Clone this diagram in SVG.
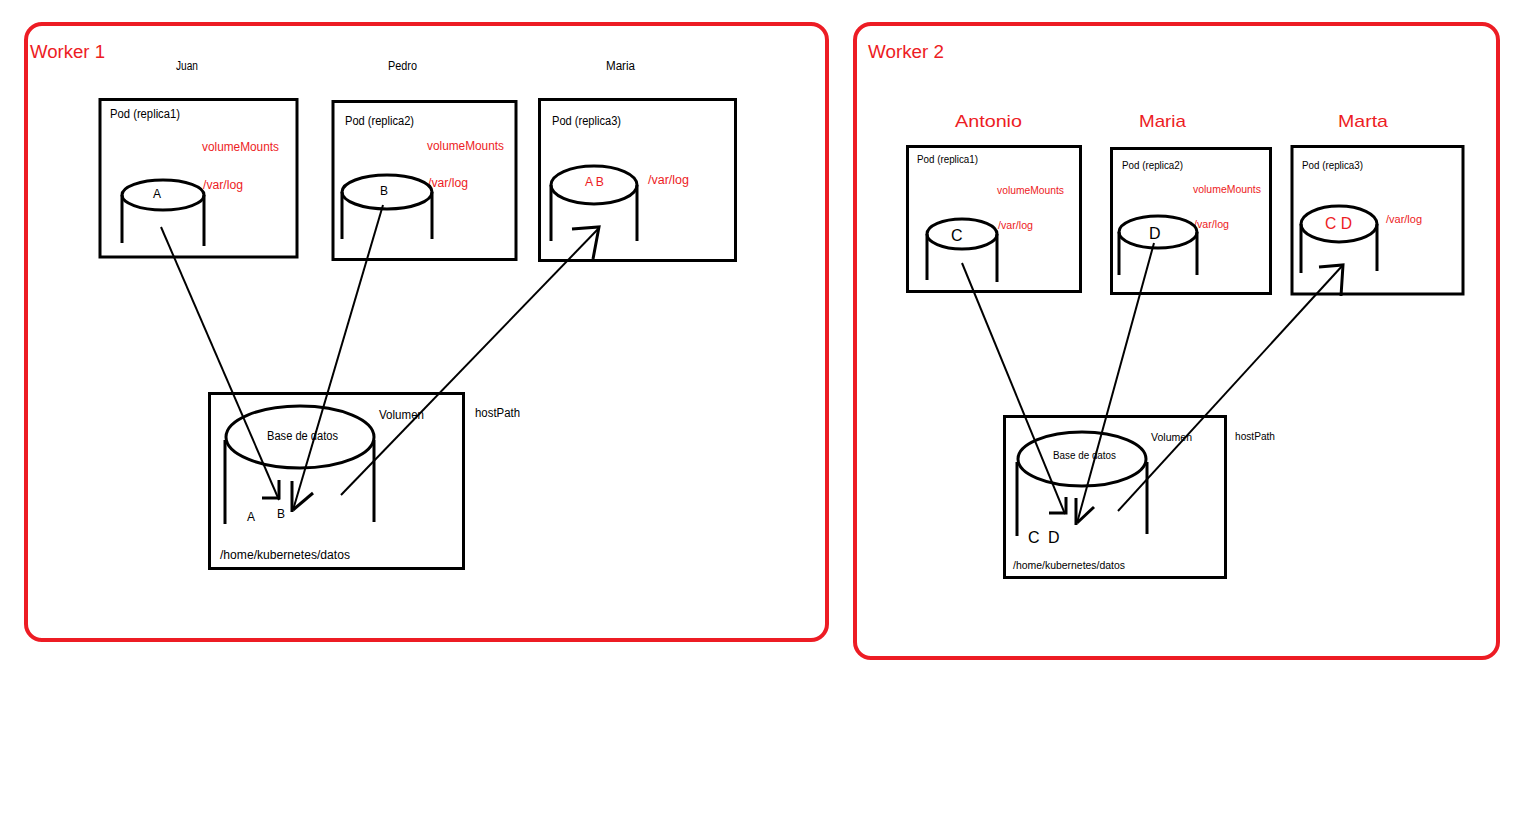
<svg xmlns="http://www.w3.org/2000/svg" width="1514" height="814" viewBox="0 0 1514 814">
<style>
.worker{fill:none;stroke:#ED1C24;stroke-width:4}
.box{fill:none;stroke:#000;stroke-width:3}
.cyl{fill:none;stroke:#000;stroke-width:3}
.conn{fill:none;stroke:#000;stroke-width:2}
.head{fill:none;stroke:#000;stroke-width:3}
text{font-family:"Liberation Sans","DejaVu Sans",sans-serif;fill:#000}
.wl{font-size:18px;fill:#ED1C24}
.red{fill:#ED1C24}
.s12{font-size:12px}
.s10{font-size:10px}
.s16{font-size:16px}
.s17{font-size:17px}
</style>
<rect width="1514" height="814" fill="#fff"/>

<g id="worker1">
<rect class="worker" x="26" y="24" width="801" height="616" rx="16"/>
<text class="wl" x="30" y="58" textLength="75" lengthAdjust="spacingAndGlyphs">Worker 1</text>
</g>
<g id="worker2">
<rect class="worker" x="855" y="24" width="643" height="634" rx="16"/>
<text class="wl" x="868" y="58" textLength="76" lengthAdjust="spacingAndGlyphs">Worker 2</text>
</g>

<g id="w1-labels">
<text class="s12" x="176" y="70" textLength="22" lengthAdjust="spacingAndGlyphs">Juan</text>
<text class="s12" x="388" y="70" textLength="29" lengthAdjust="spacingAndGlyphs">Pedro</text>
<text class="s12" x="606" y="70" textLength="29" lengthAdjust="spacingAndGlyphs">Maria</text>
</g>

<g id="w1-pod1">
<rect class="box" x="100" y="99.5" width="197" height="157.5"/>
<text class="s12" x="110" y="118" textLength="70" lengthAdjust="spacingAndGlyphs">Pod (replica1)</text>
<text class="s12 red" x="202" y="151" textLength="77" lengthAdjust="spacingAndGlyphs">volumeMounts</text>
<text class="s12 red" x="203" y="189" textLength="40" lengthAdjust="spacingAndGlyphs">/var/log</text>
<ellipse class="cyl" cx="163" cy="195" rx="41" ry="15"/>
<line class="cyl" x1="122" y1="195" x2="122" y2="243"/>
<line class="cyl" x1="204" y1="195" x2="204" y2="246"/>
<text class="s12" x="153" y="198">A</text>
</g>

<g id="w1-pod2">
<rect class="box" x="333" y="101.5" width="183" height="158"/>
<text class="s12" x="345" y="125" textLength="69" lengthAdjust="spacingAndGlyphs">Pod (replica2)</text>
<text class="s12 red" x="427" y="150" textLength="77" lengthAdjust="spacingAndGlyphs">volumeMounts</text>
<text class="s12 red" x="428" y="187" textLength="40" lengthAdjust="spacingAndGlyphs">/var/log</text>
<ellipse class="cyl" cx="387" cy="192" rx="45" ry="17"/>
<line class="cyl" x1="342" y1="192" x2="342" y2="239"/>
<line class="cyl" x1="432" y1="192" x2="432" y2="239"/>
<text class="s12" x="380" y="195">B</text>
</g>

<g id="w1-pod3">
<rect class="box" x="539.5" y="99.5" width="196" height="161"/>
<text class="s12" x="552" y="125" textLength="69" lengthAdjust="spacingAndGlyphs">Pod (replica3)</text>
<text class="s12 red" x="585" y="186" textLength="19" lengthAdjust="spacingAndGlyphs">A B</text>
<text class="s12 red" x="648" y="184" textLength="41" lengthAdjust="spacingAndGlyphs">/var/log</text>
<ellipse class="cyl" cx="594" cy="185" rx="43" ry="19"/>
<line class="cyl" x1="551" y1="185" x2="551" y2="241"/>
<line class="cyl" x1="637" y1="185" x2="637" y2="241"/>
</g>

<g id="w1-volume">
<rect class="box" x="209.5" y="393.5" width="254" height="175"/>
<ellipse class="cyl" cx="300" cy="437" rx="74" ry="31"/>
<line class="cyl" x1="225" y1="440" x2="225" y2="524"/>
<line class="cyl" x1="374" y1="440" x2="374" y2="522"/>
<text class="s12" x="267" y="440" textLength="71" lengthAdjust="spacingAndGlyphs">Base de datos</text>
<text class="s12" x="379" y="419" textLength="45" lengthAdjust="spacingAndGlyphs">Volumen</text>
<text class="s12" x="247" y="521">A</text>
<text class="s12" x="277" y="518">B</text>
<text class="s12" x="220" y="559" textLength="130" lengthAdjust="spacingAndGlyphs">/home/kubernetes/datos</text>
</g>
<g id="w1-hostpath">
<text class="s12" x="475" y="417" textLength="45" lengthAdjust="spacingAndGlyphs">hostPath</text>
</g>

<g id="w2-labels">
<text class="s17 red" x="955" y="127" textLength="67" lengthAdjust="spacingAndGlyphs">Antonio</text>
<text class="s17 red" x="1139" y="127" textLength="47" lengthAdjust="spacingAndGlyphs">Maria</text>
<text class="s17 red" x="1338" y="127" textLength="50" lengthAdjust="spacingAndGlyphs">Marta</text>
</g>

<g id="w2-pod1">
<rect class="box" x="907.5" y="146.5" width="173" height="145"/>
<text class="s10" x="917" y="163" textLength="61" lengthAdjust="spacingAndGlyphs">Pod (replica1)</text>
<text class="s10 red" x="997" y="194" textLength="67" lengthAdjust="spacingAndGlyphs">volumeMounts</text>
<text class="s10 red" x="998" y="229" textLength="35" lengthAdjust="spacingAndGlyphs">/var/log</text>
<ellipse class="cyl" cx="962" cy="234" rx="35" ry="15"/>
<line class="cyl" x1="927" y1="234" x2="927" y2="280"/>
<line class="cyl" x1="997" y1="234" x2="997" y2="282"/>
<text class="s16" x="951" y="241">C</text>
</g>

<g id="w2-pod2">
<rect class="box" x="1111.5" y="148.5" width="159" height="145"/>
<text class="s10" x="1122" y="169" textLength="61" lengthAdjust="spacingAndGlyphs">Pod (replica2)</text>
<text class="s10 red" x="1193" y="193" textLength="68" lengthAdjust="spacingAndGlyphs">volumeMounts</text>
<text class="s10 red" x="1194" y="228" textLength="35" lengthAdjust="spacingAndGlyphs">/var/log</text>
<ellipse class="cyl" cx="1158" cy="232" rx="39" ry="16"/>
<line class="cyl" x1="1119" y1="232" x2="1119" y2="275"/>
<line class="cyl" x1="1197" y1="232" x2="1197" y2="275"/>
<text class="s16" x="1149" y="239">D</text>
</g>

<g id="w2-pod3">
<rect class="box" x="1292" y="146.5" width="171" height="147.5"/>
<text class="s10" x="1302" y="169" textLength="61" lengthAdjust="spacingAndGlyphs">Pod (replica3)</text>
<text class="s16 red" x="1325" y="229" textLength="27" lengthAdjust="spacingAndGlyphs">C D</text>
<text class="s10 red" x="1386" y="223" textLength="36" lengthAdjust="spacingAndGlyphs">/var/log</text>
<ellipse class="cyl" cx="1339" cy="224" rx="38" ry="18"/>
<line class="cyl" x1="1301" y1="224" x2="1301" y2="273"/>
<line class="cyl" x1="1377" y1="224" x2="1377" y2="271"/>
</g>

<g id="w2-volume">
<rect class="box" x="1004.5" y="416.5" width="221" height="161"/>
<ellipse class="cyl" cx="1082" cy="459" rx="64" ry="27"/>
<line class="cyl" x1="1017" y1="462" x2="1017" y2="536"/>
<line class="cyl" x1="1147" y1="462" x2="1147" y2="534"/>
<text class="s10" x="1053" y="459" textLength="63" lengthAdjust="spacingAndGlyphs">Base de datos</text>
<text class="s10" x="1151" y="441" textLength="41" lengthAdjust="spacingAndGlyphs">Volumen</text>
<text class="s16" x="1028" y="543">C</text>
<text class="s16" x="1048" y="543">D</text>
<text class="s10" x="1013" y="569" textLength="112" lengthAdjust="spacingAndGlyphs">/home/kubernetes/datos</text>
</g>
<g id="w2-hostpath">
<text class="s10" x="1235" y="440" textLength="40" lengthAdjust="spacingAndGlyphs">hostPath</text>
</g>

<g id="connectors">
<line class="conn" x1="161" y1="227" x2="279" y2="500"/>
<polyline class="head" points="262,498 279,498 279,480"/>
<line class="conn" x1="383" y1="205" x2="293" y2="510"/>
<line class="head" x1="292" y1="481" x2="292" y2="512"/>
<line class="head" x1="293" y1="510" x2="313" y2="493"/>
<line class="conn" x1="341" y1="495" x2="599" y2="228"/>
<polyline class="head" points="572,229 599,227 593,259"/>

<line class="conn" x1="962" y1="263" x2="1065" y2="514"/>
<polyline class="head" points="1049,513 1066,513 1066,497"/>
<line class="conn" x1="1154" y1="243" x2="1077" y2="523"/>
<line class="head" x1="1076" y1="498" x2="1076" y2="525"/>
<line class="head" x1="1077" y1="523" x2="1094" y2="507"/>
<line class="conn" x1="1118" y1="511" x2="1343" y2="265"/>
<polyline class="head" points="1319,267 1343,265 1341,296"/>
</g>
</svg>
